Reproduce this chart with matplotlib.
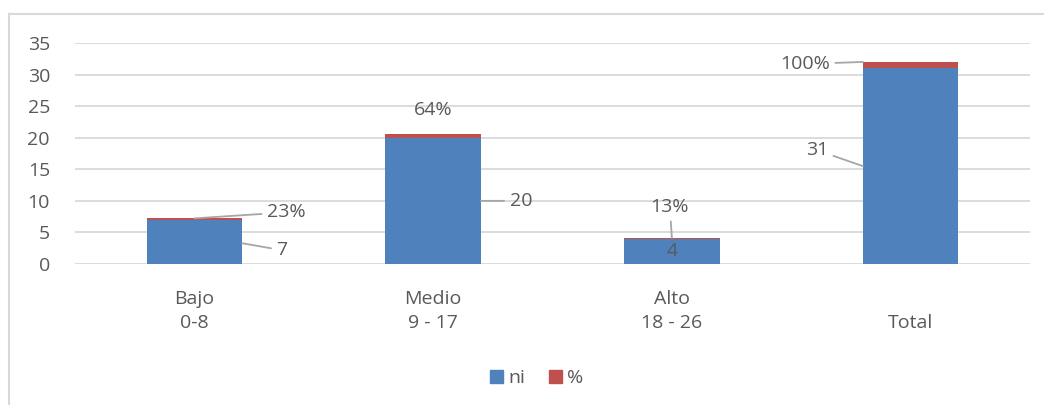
import matplotlib.pyplot as plt
from matplotlib.lines import Line2D
from matplotlib.patches import Patch

# datos del gráfico
categorias = ["Bajo\n0-8", "Medio\n9 - 17", "Alto\n18 - 26", "Total"]
ni = [7, 20, 4, 31]
porcentaje = [0.23, 0.64, 0.13, 1.00]
etiquetas_pct = ["23%", "64%", "13%", "100%"]

AZUL = "#4F81BD"
ROJO = "#C0504D"
TEXTO = "#595959"
GRIS = "#A6A6A6"
TAM = 14

plt.rcParams["font.family"] = ["Open Sans", "DejaVu Sans"]

fig = plt.figure(figsize=(10.44, 4.05), dpi=100)
ax = fig.add_axes([75 / 1044, 1 - 264 / 405, 955 / 1044, 221 / 405])

x = range(len(categorias))
ancho = 0.4
ax.bar(x, ni, width=ancho, color=AZUL, zorder=2)
ax.bar(x, porcentaje, width=ancho, bottom=ni, color=ROJO, zorder=2)

ax.set_ylim(0, 35)
ax.set_xlim(-0.5, len(categorias) - 0.5)
ax.set_yticks(range(0, 36, 5))
ax.set_xticks(list(x))
ax.set_xticklabels(categorias, linespacing=1.45)
ax.tick_params(axis="y", length=0, pad=18, labelsize=TAM, labelcolor=TEXTO)
ax.tick_params(axis="x", length=0, pad=49, labelsize=TAM, labelcolor=TEXTO)
# las etiquetas de una sola línea quedan alineadas abajo, como en Excel
for lab in ax.get_xticklabels():
    lab.set_verticalalignment("bottom")
ax.grid(axis="y", color="#D9D9D9", linewidth=1.3, zorder=0)
for s in ax.spines.values():
    s.set_visible(False)


def etiqueta(texto, xy, desp, linea=True, ha="center"):
    props = dict(arrowstyle="-", color=GRIS, lw=1.3, shrinkA=2, shrinkB=0) if linea else None
    ax.annotate(texto, xy=xy, xytext=desp, textcoords="offset pixels",
                ha=ha, va="center", fontsize=TAM, color=TEXTO,
                arrowprops=props, zorder=3)


mitad = ancho / 2
# Bajo
etiqueta(etiquetas_pct[0], (0, ni[0] + porcentaje[0]), (92, 6))
etiqueta(str(ni[0]), (mitad, ni[0] * 0.47), (40, -7))
# Medio
etiqueta(etiquetas_pct[1], (1, ni[1] + porcentaje[1]), (0, 24), linea=False)
etiqueta(str(ni[1]), (1 + mitad, ni[1] / 2), (40, 0))
# Alto
etiqueta(etiquetas_pct[2], (2, ni[2] + porcentaje[2]), (-2, 31))
etiqueta(str(ni[2]), (2, ni[2] / 2), (0, 0), linea=False)
# Total
etiqueta(etiquetas_pct[3], (3 - mitad, ni[3] + porcentaje[3]), (-58, -2))
etiqueta(str(ni[3]), (3 - mitad, ni[3] / 2), (-46, 16))

handles = [Patch(color=AZUL, label="ni"), Patch(color=ROJO, label="%")]
fig.legend(handles=handles, loc="center", bbox_to_anchor=(537 / 1044, 1 - 378 / 405),
           ncol=2, frameon=False, fontsize=TAM, labelcolor=TEXTO,
           handlelength=0.65, handleheight=0.65, handletextpad=0.3, columnspacing=1.2)

# marco exterior
fig.add_artist(Line2D([9 / 1044, 1], [1 - 14 / 405] * 2, color="#D9D9D9", lw=1.5))
fig.add_artist(Line2D([9 / 1044] * 2, [0, 1 - 14 / 405], color="#D9D9D9", lw=1.5))

fig.savefig("out.png", dpi=100)
